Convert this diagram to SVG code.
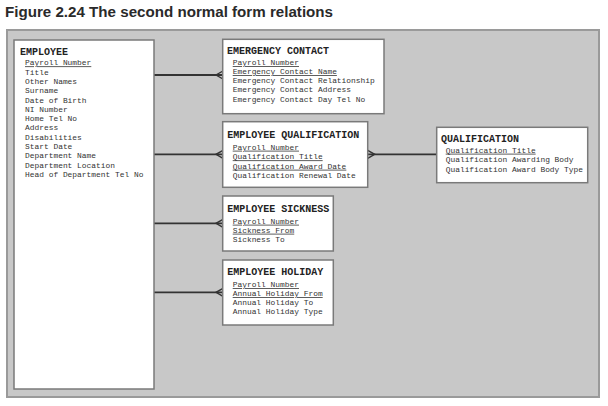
<svg xmlns="http://www.w3.org/2000/svg" width="608" height="406" viewBox="0 0 608 406">
<style>
.fig{font-family:"Liberation Sans",Arial,sans-serif;font-weight:bold;font-size:14.5px;fill:#2a2a2a}
.box{fill:#fff;stroke:#7a7a7a;stroke-width:1.5}
.ttl{font-family:"Liberation Mono","Courier New",monospace;font-size:10px;font-weight:bold;fill:#222}
.att{font-family:"Liberation Mono","Courier New",monospace;font-size:7.9px;fill:#333}
.pk{text-decoration:underline}
.ln{fill:none;stroke:#333;stroke-width:1.8}
.cf{fill:none;stroke:#333;stroke-width:1.4}
</style>
<rect x="0" y="0" width="608" height="406" fill="#fff"/>
<text class="fig" x="5" y="17" textLength="328" lengthAdjust="spacingAndGlyphs">Figure 2.24 The second normal form relations</text>
<rect x="7" y="30" width="592" height="367" fill="#c8c8c8" stroke="#9a9a9a" stroke-width="2"/>

<g id="connectors">
<path class="ln" d="M154,75H223M154,154.3H223M154,223.3H223M154,292.3H223M367.7,154.3H436.7"/>
<path class="cf" d="M223,71L216,75L223,79"/>
<path class="cf" d="M223,150.3L216,154.3L223,158.3"/>
<path class="cf" d="M223,219.3L216,223.3L223,227.3"/>
<path class="cf" d="M223,288.3L216,292.3L223,296.3"/>
<path class="cf" d="M367.7,150.3L374.7,154.3L367.7,158.3"/>
</g>

<g id="employee">
<rect class="box" x="14" y="40" width="140" height="349"/>
<text class="ttl" x="20" y="54.5">EMPLOYEE</text>
<text class="att pk" x="25" y="65.3">Payroll Number</text>
<text class="att" x="25" y="74.6">Title</text>
<text class="att" x="25" y="83.9">Other Names</text>
<text class="att" x="25" y="93.2">Surname</text>
<text class="att" x="25" y="102.5">Date of Birth</text>
<text class="att" x="25" y="111.8">NI Number</text>
<text class="att" x="25" y="121.1">Home Tel No</text>
<text class="att" x="25" y="130.4">Address</text>
<text class="att" x="25" y="139.7">Disabilities</text>
<text class="att" x="25" y="149">Start Date</text>
<text class="att" x="25" y="158.3">Department Name</text>
<text class="att" x="25" y="167.6">Department Location</text>
<text class="att" x="25" y="176.9">Head of Department Tel No</text>
</g>

<g id="emergency-contact">
<rect class="box" x="222.7" y="39.3" width="161.3" height="74.4"/>
<text class="ttl" x="227" y="54">EMERGENCY CONTACT</text>
<text class="att pk" x="232.7" y="65">Payroll Number</text>
<text class="att pk" x="232.7" y="74">Emergency Contact Name</text>
<text class="att" x="232.7" y="83">Emergency Contact Relationship</text>
<text class="att" x="232.7" y="92">Emergency Contact Address</text>
<text class="att" x="232.7" y="101.5">Emergency Contact Day Tel No</text>
</g>

<g id="employee-qualification">
<rect class="box" x="222.7" y="121.7" width="145" height="65.6"/>
<text class="ttl" x="227.3" y="137.8">EMPLOYEE QUALIFICATION</text>
<text class="att pk" x="232.7" y="149.7">Payroll Number</text>
<text class="att pk" x="232.7" y="159.3">Qualification Title</text>
<text class="att pk" x="232.7" y="168.7">Qualification Award Date</text>
<text class="att" x="232.7" y="178">Qualification Renewal Date</text>
</g>

<g id="qualification">
<rect class="box" x="436.7" y="127.3" width="151" height="55.4"/>
<text class="ttl" x="441" y="141.8">QUALIFICATION</text>
<text class="att pk" x="445.7" y="152.7">Qualification Title</text>
<text class="att" x="445.7" y="162.3">Qualification Awarding Body</text>
<text class="att" x="445.7" y="172.3">Qualification Award Body Type</text>
</g>

<g id="employee-sickness">
<rect class="box" x="222.7" y="196" width="110.6" height="55"/>
<text class="ttl" x="227.3" y="211.8">EMPLOYEE SICKNESS</text>
<text class="att pk" x="232.7" y="223.7">Payroll Number</text>
<text class="att pk" x="232.7" y="232.7">Sickness From</text>
<text class="att" x="232.7" y="242.3">Sickness To</text>
</g>

<g id="employee-holiday">
<rect class="box" x="222.7" y="260" width="110.6" height="65"/>
<text class="ttl" x="227.3" y="274.5">EMPLOYEE HOLIDAY</text>
<text class="att pk" x="232.7" y="287">Payroll Number</text>
<text class="att pk" x="232.7" y="296">Annual Holiday From</text>
<text class="att" x="232.7" y="305.3">Annual Holiday To</text>
<text class="att" x="232.7" y="314.3">Annual Holiday Type</text>
</g>
</svg>
